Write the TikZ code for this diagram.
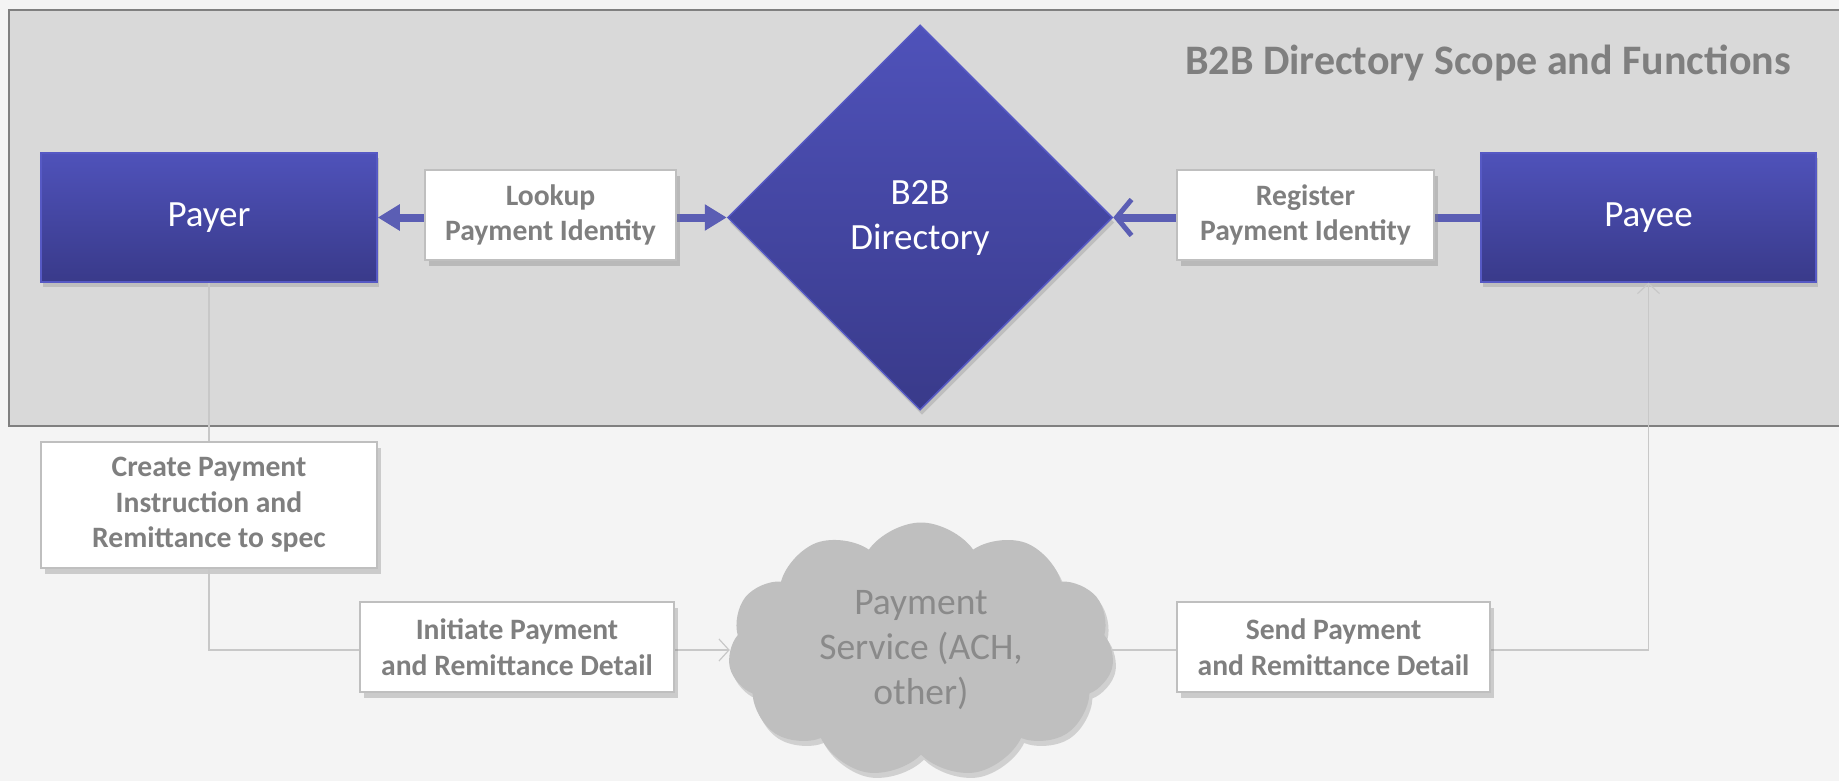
\documentclass[tikz,border=0pt]{standalone}
\usepackage{fontspec}
\setmainfont{Carlito}
\usetikzlibrary{shapes.geometric,shapes.symbols,shadows,arrows.meta}
\definecolor{pagebg}{HTML}{F4F4F4}
\definecolor{scopebg}{HTML}{D9D9D9}
\definecolor{scopeline}{HTML}{808080}
\definecolor{bluetop}{HTML}{4F52BA}
\definecolor{bluebot}{HTML}{393A8A}
\definecolor{blueedge}{HTML}{5659C4}
\definecolor{bluearrow}{HTML}{5B5EB4}
\definecolor{labeltext}{HTML}{7F7F7F}
\definecolor{labeledge}{HTML}{BFBFBF}
\definecolor{flowline}{HTML}{C8C8C8}
\definecolor{cloudfill}{HTML}{BFBFBF}
\definecolor{cloudtext}{HTML}{8A8A8A}
\tikzset{
  party/.style={rectangle, draw=blueedge, line width=1.5pt, top color=bluetop, bottom color=bluebot,
    text=white, align=center, font=\fontsize{37}{45}\selectfont,
    drop shadow={shadow xshift=2pt, shadow yshift=-5pt, opacity=.3}},
  labelbox/.style={rectangle, draw=labeledge, line width=2pt, fill=white, text=labeltext, align=center,
    font=\bfseries\fontsize{29.6}{35.5}\selectfont,
    drop shadow={shadow xshift=4pt, shadow yshift=-6pt, opacity=.35}},
  bluelink/.style={draw=bluearrow, line width=8pt},
  flow/.style={draw=flowline, line width=1.5pt},
  flowtip/.style={-{Straight Barb[length=10pt,width=22pt,line width=1.2pt]}}
}
\begin{document}
\begin{tikzpicture}[x=1pt,y=-1pt]
	\useasboundingbox (0,0) rectangle (1839,781);
	\clip (0,0) rectangle (1839,781);
	\fill[pagebg] (0,0) rectangle (1839,781);
	\draw[scopeline, fill=scopebg, line width=2pt] (9,10) rectangle (1870,426); % scope runs off the right edge
	\node[font=\bfseries\fontsize{42}{50}\selectfont, text=labeltext, anchor=base] (title) at (1488,75) {B2B Directory Scope and Functions};
	\node[party, minimum width=336pt, minimum height=129pt] (payer) at (209,217.5) {Payer};
	\node[party, minimum width=335pt, minimum height=129pt] (payee) at (1648.5,217.5) {Payee};
	\node[party, diamond, aspect=1, inner sep=0pt, minimum size=385pt] (dir) at (920,217.5) {B2B\\Directory};
	\node[cloud, cloud puffs=11, cloud puff arc=110, aspect=1.5, fill=cloudfill, text=cloudtext, align=center,
		minimum width=386pt, minimum height=255pt, inner sep=0pt, font=\fontsize{37.5}{45}\selectfont,
		drop shadow={shadow xshift=3pt, shadow yshift=-5pt, opacity=.3}] (service) at (921,650) {Payment\\Service (ACH,\\other)};
	\node[labelbox, minimum width=336pt, minimum height=126pt] (create) at (209,505) {Create Payment\\Instruction and\\Remittance to spec};
	% connectors run behind the label boxes
	\draw[bluelink, {Triangle[length=22pt,width=25pt]}-{Triangle[length=22pt,width=25pt]}] (payer.east) -- (dir.west);
	\draw[bluelink, -{Straight Barb[length=15pt,width=36pt,line width=5pt]}] (payee.west) -- (dir.east);
	\draw[flow] (payer.south) -- (create.north);
	\draw[flow, flowtip] (create.south) |- (service.west);
	\draw[flow, flowtip] (service.east) -| (payee.south);
	\node[labelbox, minimum width=251pt, minimum height=90pt] (lookup) at (550.5,215) {Lookup\\Payment Identity};
	\node[labelbox, minimum width=257pt, minimum height=90pt] (register) at (1305.5,215) {Register\\Payment Identity};
	\node[labelbox, minimum width=314pt, minimum height=90pt] (initiate) at (517,647) {Initiate Payment\\and Remittance Detail};
	\node[labelbox, minimum width=313pt, minimum height=90pt] (send) at (1333.5,647) {Send Payment\\and Remittance Detail};
\end{tikzpicture}
\end{document}
